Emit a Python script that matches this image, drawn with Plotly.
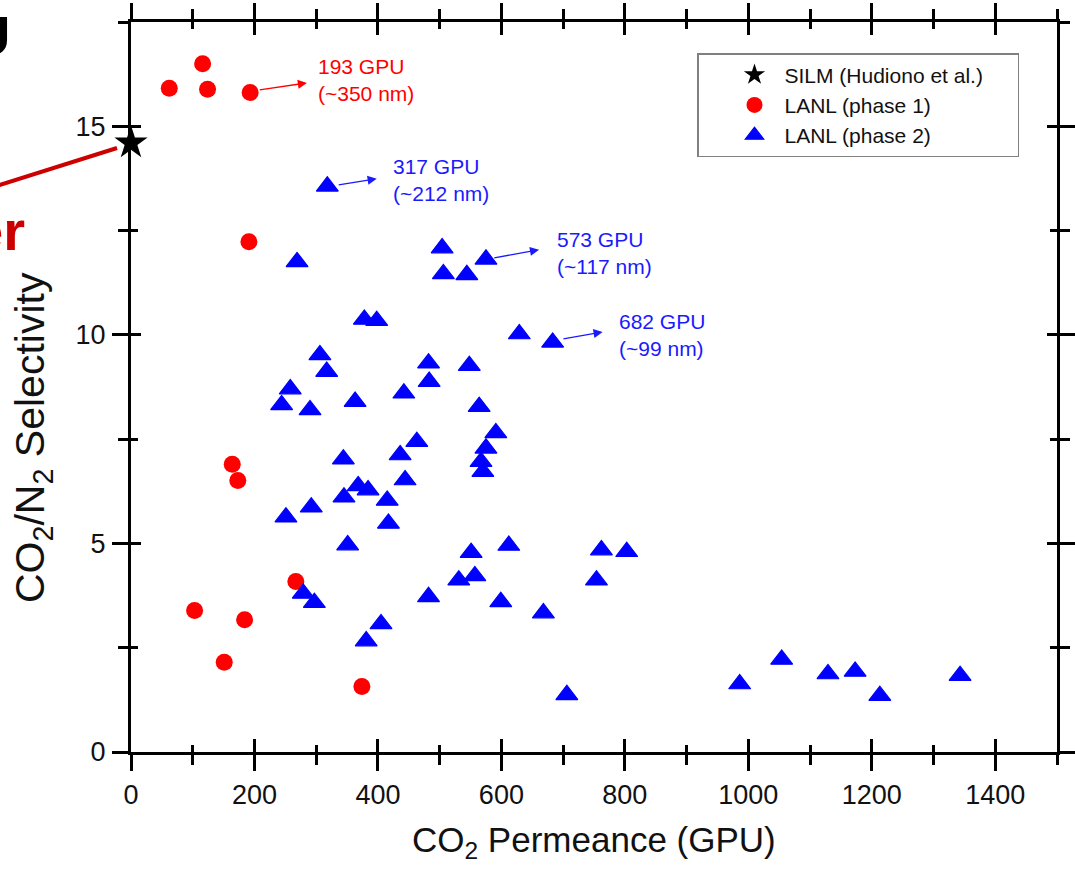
import plotly.graph_objects as go

# ---------------- data ----------------
silm_x = [0]
silm_y = [14.6]

p1_x = [62, 116, 124, 193, 191, 164, 173, 267, 103, 184, 151, 374]
p1_y = [15.91, 16.5, 15.89, 15.81, 12.23, 6.90, 6.51, 4.09, 3.39, 3.17, 2.15, 1.57]

p2_x = [318, 269, 504, 506, 544, 575, 629, 683, 378, 398,
        306, 317, 482, 483, 548, 258, 442, 363, 244, 290,
        564, 591, 575, 567, 570, 463, 436, 344, 444, 368,
        384, 345, 415, 292, 251, 417, 351, 551, 612, 557,
        531, 279, 297, 482, 599, 668, 405, 381, 762, 803,
        754, 706, 986, 1054, 1129, 1173, 1213, 1343]
p2_y = [13.56, 11.75, 12.08, 11.46, 11.44, 11.81, 10.02, 9.82, 10.37, 10.34,
        9.52, 9.12, 9.32, 8.88, 9.26, 8.70, 8.60, 8.40, 8.32, 8.20,
        8.28, 7.65, 7.28, 6.96, 6.72, 7.44, 7.12, 7.02, 6.52, 6.38,
        6.28, 6.11, 6.03, 5.87, 5.63, 5.48, 4.96, 4.78, 4.95, 4.22,
        4.12, 3.80, 3.58, 3.72, 3.60, 3.33, 3.07, 2.66, 4.84, 4.80,
        4.12, 1.37, 1.63, 2.22, 1.87, 1.93, 1.35, 1.83]

series_names = ["SILM (Hudiono et al.)", "LANL (phase 1)", "LANL (phase 2)"]

# callout labels: text, colour, text anchor (x, y), arrow tail (x, y), arrow head (x, y)
callout_text = ["193 GPU<br>(~350 nm)", "317 GPU<br>(~212 nm)",
                "573 GPU<br>(~117 nm)", "682 GPU<br>(~99 nm)"]
callout_color = ["#ff0000", "#1a1aff", "#1a1aff", "#1a1aff"]
callout_pos = [(299, 16.75), (421, 14.35), (687, 12.6), (787, 10.64)]
arrow_tail = [(206, 15.87), (334, 13.59), (586, 11.84), (698, 9.90)]
arrow_head = [(285, 16.04), (398, 13.74), (661, 12.04), (764, 10.07)]

x_range = [0, 1500]
y_range = [0, 17.5]

FONT = "Arial, 'Liberation Sans', Helvetica, sans-serif"
PAD = "&nbsp;" * 5

fig = go.Figure()
fig.add_trace(go.Scatter(x=silm_x, y=silm_y, mode="markers", name=series_names[0] + PAD,
                         marker=dict(symbol="star", size=25, color="black"), cliponaxis=False))
fig.add_trace(go.Scatter(x=p1_x, y=p1_y, mode="markers", name=series_names[1],
                         marker=dict(symbol="circle", size=17, color="#ff0000"), cliponaxis=False))
fig.add_trace(go.Scatter(x=p2_x, y=p2_y, mode="markers", name=series_names[2],
                         marker=dict(symbol="triangle-up", size=19, color="#0000ff",
                                     line=dict(color="#0000ff", width=1.2)), cliponaxis=False))
# empty trace so the overlay axes (inner half of crossing ticks) exist
fig.add_trace(go.Scatter(x=[], y=[], xaxis="x2", yaxis="y2", showlegend=False, hoverinfo="skip"))

common = dict(showline=True, linecolor="black", linewidth=3, showgrid=False, zeroline=False,
              mirror="ticks", tickcolor="black", automargin=False)

fig.update_layout(
    width=1075, height=869,
    margin=dict(l=131, r=18, t=22, b=117, pad=0, autoexpand=False),
    paper_bgcolor="white", plot_bgcolor="white",
    font=dict(family=FONT, color="#111111"),
    xaxis=dict(range=x_range, tick0=0, dtick=200, ticks="outside", ticklen=16, tickwidth=3,
               minor=dict(ticks="outside", ticklen=10, tickwidth=2.5, dtick=100, tickcolor="black"),
               tickfont=dict(size=27, family=FONT, color="#111111"), ticklabelstandoff=1, **common),
    yaxis=dict(range=y_range, tick0=0, dtick=5, ticks="outside", ticklen=16, tickwidth=3,
               minor=dict(ticks="outside", ticklen=10, tickwidth=2.5, dtick=2.5, tickcolor="black"),
               tickfont=dict(size=27, family=FONT, color="#111111"), ticklabelstandoff=1, **common),
    xaxis2=dict(range=x_range, overlaying="x", anchor="y2", tick0=0, dtick=200, ticks="inside",
                ticklen=13, tickwidth=3, showticklabels=False,
                minor=dict(ticks="inside", ticklen=7, tickwidth=2.5, dtick=100, tickcolor="black"),
                **common),
    yaxis2=dict(range=y_range, overlaying="y", anchor="x2", tick0=0, dtick=5, ticks="inside",
                ticklen=10, tickwidth=3, showticklabels=False,
                minor=dict(ticks="inside", ticklen=7, tickwidth=2.5, dtick=2.5, tickcolor="black"),
                **common),
    legend=dict(x=(697 - 131) / 926, y=(752 - 53) / 730, xanchor="left", yanchor="top",
                bordercolor="#808080", borderwidth=1.5, bgcolor="white",
                font=dict(size=21, family=FONT, color="#111111"),
                itemwidth=50, indentation=26),
    showlegend=True,
)

annotations = []
for txt, col, (tx, ty), (ax_, ay_), (hx, hy) in zip(callout_text, callout_color, callout_pos,
                                                      arrow_tail, arrow_head):
    annotations.append(dict(x=tx, y=ty, xref="x", yref="y", text=txt, showarrow=False,
                            xanchor="left", yanchor="top", align="left",
                            font=dict(size=21, family=FONT, color=col)))
    annotations.append(dict(x=hx, y=hy, ax=ax_, ay=ay_, xref="x", yref="y", axref="x", ayref="y",
                            text="", showarrow=True, arrowhead=2, arrowsize=1.4, arrowwidth=1.3,
                            arrowcolor=col, standoff=0, startstandoff=0))

# axis titles
annotations.append(dict(x=0.5, y=(752 - 842) / 730, xref="paper", yref="paper",
                        text="CO<sub>2</sub> Permeance (GPU)", showarrow=False,
                        xanchor="center", yanchor="middle",
                        font=dict(size=35, family=FONT, color="#111111")))
annotations.append(dict(x=(33 - 131) / 926, y=(752 - 438) / 730, xref="paper", yref="paper",
                        text="CO<sub>2</sub>/N<sub>2</sub> Selectivity", showarrow=False,
                        textangle=-90, xanchor="center", yanchor="middle",
                        font=dict(size=41, family=FONT, color="#111111")))
# cropped slide text at the left edge
annotations.append(dict(x=(12 - 131) / 926, y=(752 - 69) / 730, xref="paper", yref="paper",
                        text="<b>U</b>", showarrow=False, xanchor="right", yanchor="bottom",
                        font=dict(size=56, family=FONT, color="black")))
annotations.append(dict(x=(27 - 131) / 926, y=(752 - 264) / 730, xref="paper", yref="paper",
                        text="<b>er</b>", showarrow=False, xanchor="right", yanchor="bottom",
                        font=dict(size=56, family=FONT, color="#cc0000")))
fig.update_layout(annotations=annotations)

# red pointer line from the slide towards the star
fig.add_shape(type="line", xref="paper", yref="paper",
              x0=(117 - 131) / 926, y0=(752 - 148) / 730,
              x1=(-5 - 131) / 926, y1=(752 - 186.5) / 730,
              line=dict(color="#cc0000", width=4), layer="below")

fig.write_html("out.html", config={"displayModeBar": False},
               post_script="document.body.style.margin='0px';document.body.style.overflow='hidden';")
